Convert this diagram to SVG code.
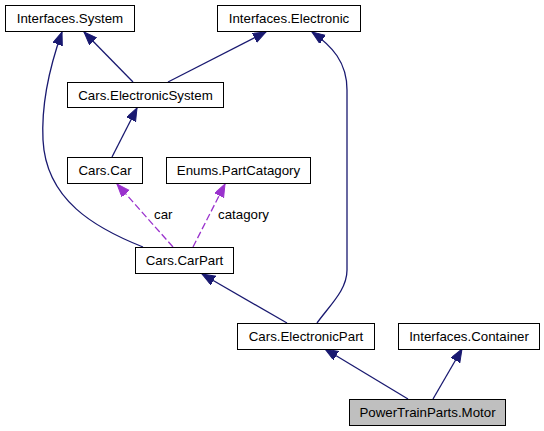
<svg xmlns="http://www.w3.org/2000/svg" width="544" height="431" viewBox="0 0 544 431">
  <style>
    .node rect { fill: #ffffff; stroke: #000000; stroke-width: 1; }
    .node.current rect { fill: #bfbfbf; }
    .node text, .label { font-family: "Liberation Sans", Arial, Helvetica, sans-serif; font-size: 13.3px; fill: #000000; }
    .node text { text-anchor: middle; }
    .inherit { fill: none; stroke: #191970; stroke-width: 1.3; marker-end: url(#arrowBlue); }
    .usage { fill: none; stroke: #9a32cd; stroke-width: 1.3; stroke-dasharray: 7,3; marker-end: url(#arrowPurple); }
  </style>
  <defs>
    <marker id="arrowBlue" markerUnits="userSpaceOnUse" markerWidth="14" markerHeight="12" viewBox="0 0 14 12" refX="13" refY="5" orient="auto">
      <path d="M0,0 L13,5 L0,10 z" fill="#191970" stroke="#191970" stroke-width="1" stroke-dasharray="none"/>
    </marker>
    <marker id="arrowPurple" markerUnits="userSpaceOnUse" markerWidth="14" markerHeight="12" viewBox="0 0 14 12" refX="13" refY="5" orient="auto">
      <path d="M0,0 L13,5 L0,10 z" fill="#9a32cd" stroke="#9a32cd" stroke-width="1" stroke-dasharray="none"/>
    </marker>
  </defs>

  <!-- connectors -->
  <g id="edges">
    <path class="inherit" d="M133,82 L84,32"/>
    <path class="inherit" d="M168,82 L266,32"/>
    <path class="inherit" d="M143,247 C95,228 46,200 43,140 C41,100 52,60 62,32"/>
    <path class="inherit" d="M317,323 C330,305 347,290 347,270 L347,90 C347,62 332,46 312,32"/>
    <path class="inherit" d="M112,157 L137,108"/>
    <path class="usage" d="M173,247 L117,184"/>
    <path class="usage" d="M193,247 L225,184"/>
    <path class="inherit" d="M287,323 L202,274"/>
    <path class="inherit" d="M408,399 L325,349"/>
    <path class="inherit" d="M433,399 L462,349"/>
    <text class="label" x="154" y="219">car</text>
    <text class="label" x="218" y="219">catagory</text>
  </g>

  <g id="node_interfaces_system" class="node">
    <rect x="5.5" y="5.5" width="129" height="26"/>
    <text x="70" y="23">Interfaces.System</text>
  </g>
  <g id="node_interfaces_electronic" class="node">
    <rect x="217.5" y="5.5" width="143" height="26"/>
    <text x="289" y="23">Interfaces.Electronic</text>
  </g>
  <g id="node_cars_electronicsystem" class="node">
    <rect x="67.5" y="82.5" width="156" height="25"/>
    <text x="145.5" y="99.5">Cars.ElectronicSystem</text>
  </g>
  <g id="node_cars_car" class="node">
    <rect x="67.5" y="157.5" width="75" height="26"/>
    <text x="105" y="175">Cars.Car</text>
  </g>
  <g id="node_enums_partcatagory" class="node">
    <rect x="166.5" y="157.5" width="144" height="26"/>
    <text x="238.5" y="175">Enums.PartCatagory</text>
  </g>
  <g id="node_cars_carpart" class="node">
    <rect x="135.5" y="247.5" width="98" height="26"/>
    <text x="184.5" y="265">Cars.CarPart</text>
  </g>
  <g id="node_cars_electronicpart" class="node">
    <rect x="237.5" y="323.5" width="137" height="26"/>
    <text x="306" y="341">Cars.ElectronicPart</text>
  </g>
  <g id="node_interfaces_container" class="node">
    <rect x="398.5" y="323.5" width="141" height="26"/>
    <text x="469" y="341">Interfaces.Container</text>
  </g>
  <g id="node_powertrainparts_motor" class="node current">
    <rect x="349.5" y="399.5" width="156" height="26"/>
    <text x="427.5" y="417">PowerTrainParts.Motor</text>
  </g>
</svg>
